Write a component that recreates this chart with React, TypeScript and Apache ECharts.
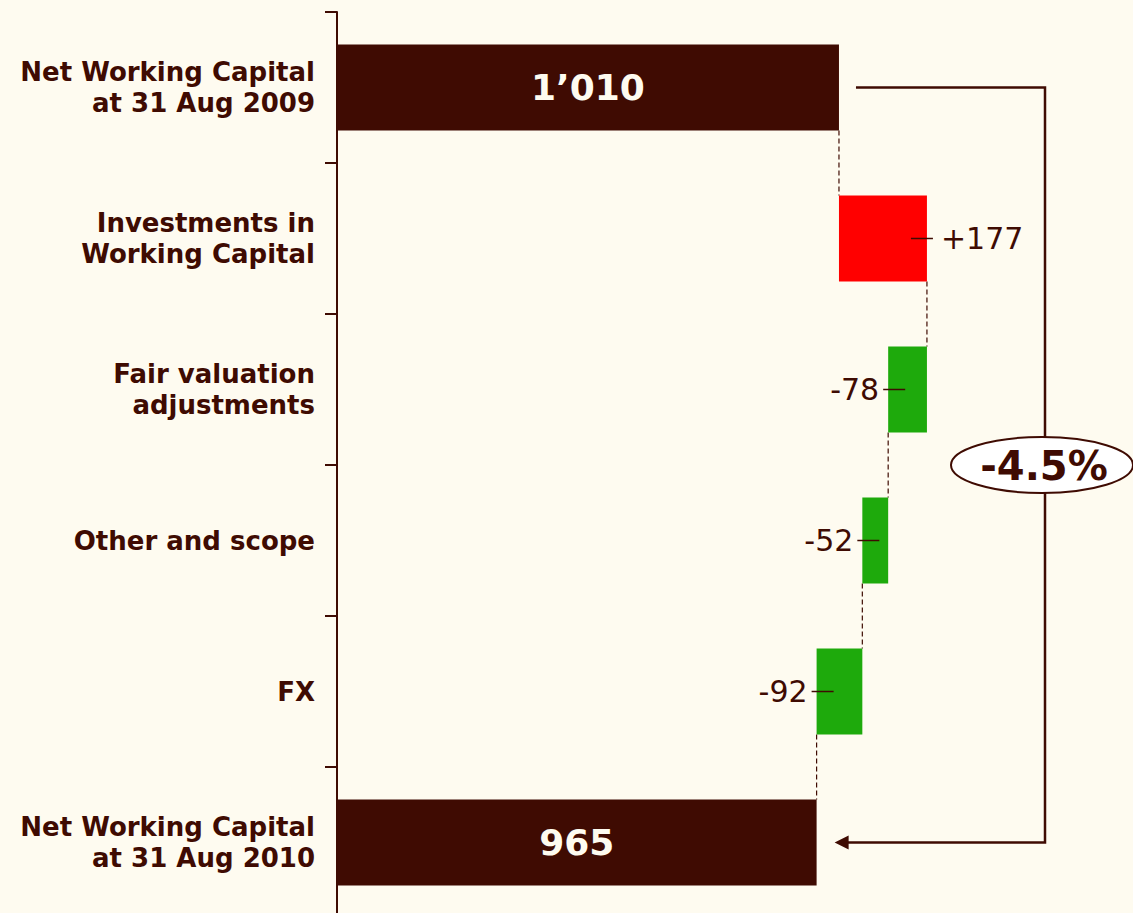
import React, { useEffect, useRef } from "react";
import * as echarts from "echarts";

const categories = [
  "Net Working Capital\nat 31 Aug 2009",
  "Investments in\nWorking Capital",
  "Fair valuation\nadjustments",
  "Other and scope",
  "FX",
  "Net Working Capital\nat 31 Aug 2010",
];
const totals: (number | null)[] = [1010, null, null, null, null, 965];
const deltas: (number | null)[] = [null, 177, -78, -52, -92, null];
const changeLabel = "-4.5%";

const BROWN = "#3f0b02";
const RED = "#ff0000";
const GREEN = "#1eaa0c";
const BG = "#fefbf0";
const FONT = "DejaVu Sans";
const BAR_W = 86;

function fmtTotal(v: number): string {
  const s = String(Math.round(v));
  return s.replace(/\B(?=(\d{3})+(?!\d))/g, "\u2019");
}

// running positions
const base: number[] = [];
const inc: (number | string)[] = [];
const dec: (number | string)[] = [];
const tot: (number | string)[] = [];
const ends: number[] = [];
let running = 0;
categories.forEach((_, i) => {
  const t = totals[i];
  const d = deltas[i];
  if (t != null) {
    running = t;
    base.push(0);
    tot.push(t);
    inc.push("-");
    dec.push("-");
  } else if (d != null) {
    if (d >= 0) {
      base.push(running);
      inc.push(d);
      dec.push("-");
    } else {
      base.push(running + d);
      dec.push(-d);
      inc.push("-");
    }
    tot.push("-");
    running = running + d;
  }
  ends.push(running);
});

// connectors: [index, value]
const connectorData = ends.slice(0, -1).map((v, i) => [i, v]);
// leader lines: [index, edgeValue, side(1 right / -1 left)]
const leaderData = deltas
  .map((d, i) => (d == null ? null : [i, ends[i], d >= 0 ? 1 : -1]))
  .filter((x) => x != null);

export default function App() {
  const ref = useRef<HTMLDivElement>(null);
  useEffect(() => {
    if (!ref.current) return;
    document.body.style.overflow = "hidden";
    const chart = echarts.init(ref.current, undefined, { renderer: "svg" });
    const option: any = {
      animation: false,
      backgroundColor: BG,
      grid: { left: 337, top: 12, width: 745.5, height: 906 },
      xAxis: { type: "value", min: 0, max: 1500, show: false },
      yAxis: {
        type: "category",
        data: categories,
        inverse: true,
        axisLine: { show: true, lineStyle: { color: BROWN, width: 2 } },
        axisTick: { show: true, length: 12, lineStyle: { color: BROWN, width: 2 } },
        axisLabel: {
          margin: 22,
          color: BROWN,
          fontFamily: FONT,
          fontWeight: "bold",
          fontSize: 26,
          lineHeight: 31,
          align: "right",
        },
        splitLine: { show: false },
      },
      series: [
        {
          name: "base",
          type: "bar",
          stack: "w",
          barWidth: BAR_W,
          data: base,
          itemStyle: { color: "transparent" },
          silent: true,
        },
        {
          name: "total",
          type: "bar",
          stack: "w",
          barWidth: BAR_W,
          data: tot,
          itemStyle: { color: BROWN },
          label: {
            show: true,
            position: "inside",
            color: BG,
            fontFamily: FONT,
            fontWeight: "bold",
            fontSize: 36,
            formatter: (p: any) => fmtTotal(p.value),
          },
        },
        {
          name: "increase",
          type: "bar",
          stack: "w",
          barWidth: BAR_W,
          data: inc,
          itemStyle: { color: RED },
          label: {
            show: true,
            position: "right",
            distance: 14,
            color: BROWN,
            fontFamily: FONT,
            fontSize: 30,
            formatter: (p: any) => "+" + p.value,
          },
        },
        {
          name: "decrease",
          type: "bar",
          stack: "w",
          barWidth: BAR_W,
          data: dec,
          itemStyle: { color: GREEN },
          label: {
            show: true,
            position: "left",
            distance: 9,
            color: BROWN,
            fontFamily: FONT,
            fontSize: 30,
            formatter: (p: any) => "-" + p.value,
          },
        },
        {
          name: "connectors",
          type: "custom",
          silent: true,
          encode: { x: 1, y: 0 },
          data: connectorData,
          renderItem: (params: any, api: any) => {
            const i = api.value(0);
            const v = api.value(1);
            const p1 = api.coord([v, i]);
            const p2 = api.coord([v, i + 1]);
            return {
              type: "line",
              shape: { x1: p1[0], y1: p1[1] + BAR_W / 2, x2: p2[0], y2: p2[1] - BAR_W / 2 },
              style: { stroke: BROWN, lineWidth: 1.2, lineDash: [5, 3] },
            };
          },
          z: 1,
        },
        {
          name: "leaders",
          type: "custom",
          silent: true,
          encode: { x: 1, y: 0 },
          data: leaderData,
          renderItem: (params: any, api: any) => {
            const i = api.value(0);
            const v = api.value(1);
            const side = api.value(2);
            const p = api.coord([v, i]);
            const x1 = side > 0 ? p[0] - 16 : p[0] - 5;
            const x2 = side > 0 ? p[0] + 6 : p[0] + 17;
            return {
              type: "line",
              shape: { x1, y1: p[1], x2, y2: p[1] },
              style: { stroke: BROWN, lineWidth: 1.5 },
            };
          },
          z: 5,
        },
      ],
    };
    chart.setOption(option);

    const first = totals[0] as number;
    const last = totals[totals.length - 1] as number;
    const pA = chart.convertToPixel({ gridIndex: 0 }, [first, 0]) as number[];
    const pB = chart.convertToPixel({ gridIndex: 0 }, [last, categories.length - 1]) as number[];
    const vx = 1045;
    const startX = pA[0] + 17;
    const tipX = pB[0] + 18;
    const midY = (pA[1] + pB[1]) / 2;
    chart.setOption({
      graphic: [
        {
          type: "polyline",
          shape: {
            points: [
              [startX, pA[1]],
              [vx, pA[1]],
              [vx, pB[1]],
              [tipX + 10, pB[1]],
            ],
          },
          style: { stroke: BROWN, lineWidth: 2.5, fill: null },
          z: 10,
        },
        {
          type: "polygon",
          shape: {
            points: [
              [tipX, pB[1]],
              [tipX + 14, pB[1] - 7],
              [tipX + 14, pB[1] + 7],
            ],
          },
          style: { fill: BROWN },
          z: 10,
        },
        {
          type: "ellipse",
          shape: { cx: vx - 3, cy: midY, rx: 91, ry: 28 },
          style: { fill: "#ffffff", stroke: BROWN, lineWidth: 2 },
          z: 11,
        },
        {
          type: "text",
          x: vx - 1,
          y: midY + 1,
          style: {
            text: changeLabel,
            fill: BROWN,
            font: `bold 40px "${FONT}"`,
            align: "center",
            verticalAlign: "middle",
          },
          z: 12,
        },
      ],
    });
    return () => chart.dispose();
  }, []);
  return (
    <div
      ref={ref}
      style={{ position: "fixed", left: 0, top: 0, width: 1133, height: 930 }}
    />
  );
}
